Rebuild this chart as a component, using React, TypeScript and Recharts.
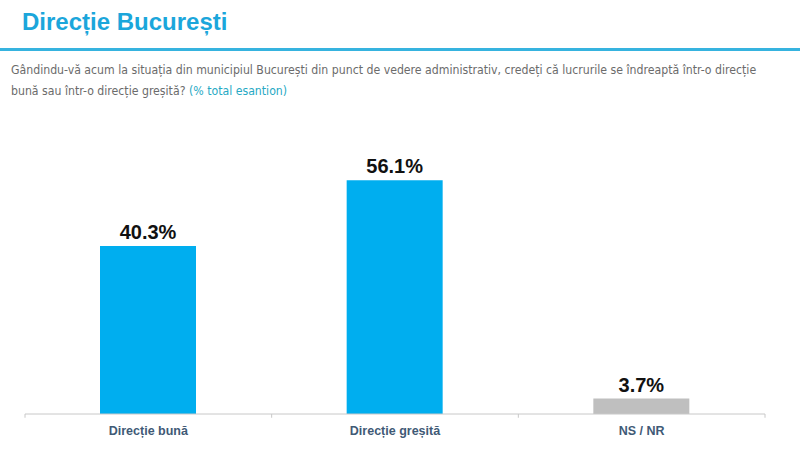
import { BarChart, Bar, XAxis, YAxis, Cell, LabelList, ReferenceLine } from 'recharts'

const categories = ['Direcție bună', 'Direcție greșită', 'NS / NR']
const shares = [40.3, 56.1, 3.7]
const barColors = ['#00aeef', '#00aeef', '#bfbfbf']
const edgeTicks = [0, 1, 2, 3]

const data = categories.map((name, i) => ({ name, value: shares[i], edge: i + 0.5 }))

export default function App() {
  return (
    <div
      style={{
        position: 'absolute',
        top: 0,
        left: 0,
        width: 800,
        height: 450,
        background: '#fff',
        overflow: 'hidden',
      }}
    >
      <div
        style={{
          position: 'absolute',
          left: 22,
          top: 8,
          fontFamily: '"Liberation Sans", Arial, sans-serif',
          fontWeight: 'bold',
          fontSize: 24,
          color: '#1ba6db',
        }}
      >
        Direcție București
      </div>
      <div
        style={{
          position: 'absolute',
          left: 0,
          top: 48,
          width: 800,
          height: 3,
          background: '#36b3df',
        }}
      />
      <div
        style={{
          position: 'absolute',
          left: 11,
          top: 60,
          width: 785,
          fontFamily: '"DejaVu Sans Condensed", "DejaVu Sans", sans-serif',
          fontSize: 12.2,
          lineHeight: '21px',
          color: '#6b6b6b',
          whiteSpace: 'nowrap',
        }}
      >
        Gândindu-vă acum la situația din municipiul București din punct de vedere administrativ, credeți că lucrurile se
        îndreaptă într-o direcție
        <br />
        bună sau într-o direcție greșită? <span style={{ color: '#27a9c4' }}>(% total esantion)</span>
      </div>
      <div style={{ position: 'absolute', left: 0, top: 0 }}>
        <BarChart
          width={800}
          height={450}
          data={data}
          margin={{ top: 164, right: 35, bottom: 6, left: 25 }}
        >
          <YAxis hide domain={[0, 60]} />
          <XAxis
            dataKey="name"
            axisLine={{ stroke: '#c8c8c8' }}
            tickLine={false}
            height={30}
            tick={{
              fontFamily: '"Liberation Sans", Arial, sans-serif',
              fontWeight: 'bold',
              fontSize: 12.5,
              fill: '#3f5a76',
              dy: 4,
            }}
          />
          <XAxis xAxisId="edges" dataKey="edge" type="number" domain={[0, 3]} hide />
          {edgeTicks.map((t) => (
            <ReferenceLine
              key={t}
              xAxisId="edges"
              segment={[
                { x: t, y: 0 },
                { x: t, y: -0.9 },
              ]}
              stroke="#c8c8c8"
              ifOverflow="visible"
            />
          ))}
          <Bar dataKey="value" barSize={96} isAnimationActive={false}>
            {data.map((d, i) => (
              <Cell key={d.name} fill={barColors[i]} />
            ))}
            <LabelList
              dataKey="value"
              position="top"
              offset={7}
              formatter={(v: number) => `${v}%`}
              style={{
                fontFamily: '"Liberation Sans", Arial, sans-serif',
                fontWeight: 'bold',
                fontSize: 20,
                fill: '#111',
              }}
            />
          </Bar>
        </BarChart>
      </div>
    </div>
  )
}
